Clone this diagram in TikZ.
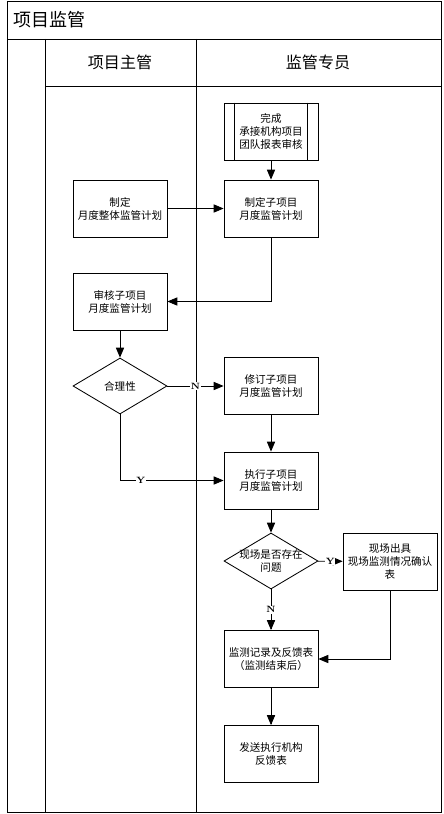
\documentclass[tikz,border=0pt]{standalone}
\usepackage{fontspec}
\newfontfamily\cjk{Noto Sans CJK SC}
\usetikzlibrary{shapes,arrows}

\begin{document}
\begin{tikzpicture}[x=0.025cm,y=-0.025cm,line width=0.6pt,
	box/.style={draw,rectangle,minimum width=2.35cm,minimum height=1.425cm,align=center,font=\cjk\fontsize{7.5}{9.2}\selectfont},
	choice/.style={draw,diamond,aspect=1.68,inner sep=-1pt,minimum width=2.35cm,minimum height=1.4cm,align=center,font=\cjk\fontsize{7.5}{9.2}\selectfont},
	arr/.style={-triangle 45},
	yn/.style={fill=white,inner sep=0.5pt,font=\fontsize{6.5}{7}\selectfont\bfseries}]
\useasboundingbox (0,0) rectangle (444,814);
\draw[color=black] (7,1) rectangle (441,812);%frame
\draw[color=black] (7,39) -- (441,39);%under title
\draw[color=black] (45,39) -- (45,812);%left column
\draw[color=black] (196,39) -- (196,812);%between lanes
\draw[color=black] (45,86) -- (441,86);%under lane heads

\node[anchor=west,font=\cjk\fontsize{12.8}{14}\selectfont] (title) at (8,20) {项目监管};
\node[font=\cjk\fontsize{11.4}{13}\selectfont] (lead) at (120,62) {项目主管};
\node[font=\cjk\fontsize{11.4}{13}\selectfont] (officer) at (318,62) {监管专员};

\node[box] (done) at (271,131.5) {完成\\承接机构项目\\团队报表审核};
\draw ([xshift=0.275cm]done.north west) -- ([xshift=0.275cm]done.south west);%sub-process bars
\draw ([xshift=-0.275cm]done.north east) -- ([xshift=-0.275cm]done.south east);
\node[box] (overall) at (120,208.5) {制定\\月度整体监管计划};
\node[box] (plan) at (271,208.5) {制定子项目\\月度监管计划};
\node[box] (review) at (120,301.5) {审核子项目\\月度监管计划};
\node[choice] (ok) at (120,386) {合理性};
\node[box] (revise) at (271,386) {修订子项目\\月度监管计划};
\node[box] (exec) at (271,480.5) {执行子项目\\月度监管计划};
\node[choice] (issue) at (271,561) {现场是否存在\\问题};
\node[box] (onsite) at (390,561.5) {现场出具\\现场监测情况确认\\表};
\node[box] (record) at (271,659) {监测记录及反馈表\\（监测结束后）};
\node[box] (send) at (271,754) {发送执行机构\\反馈表};

\draw[arr] (done) -- (plan);
\draw[arr] (overall) -- (plan);
\draw[arr] (plan.south) |- (review.east);
\draw[arr] (review) -- (ok);
\draw[arr] (ok) -- node[yn] {N} (revise);
\draw[arr] (ok.south) |- node[yn,pos=0.6] {Y} (exec.west);
\draw[arr] (revise) -- (exec);
\draw[arr] (exec) -- (issue);
\draw[arr] (issue) -- node[yn] {Y} (onsite);
\draw[arr] (issue) -- node[yn] {N} (record);
\draw[arr] (onsite.south) |- (record.east);
\draw[arr] (record) -- (send);

\end{tikzpicture}
\end{document}
